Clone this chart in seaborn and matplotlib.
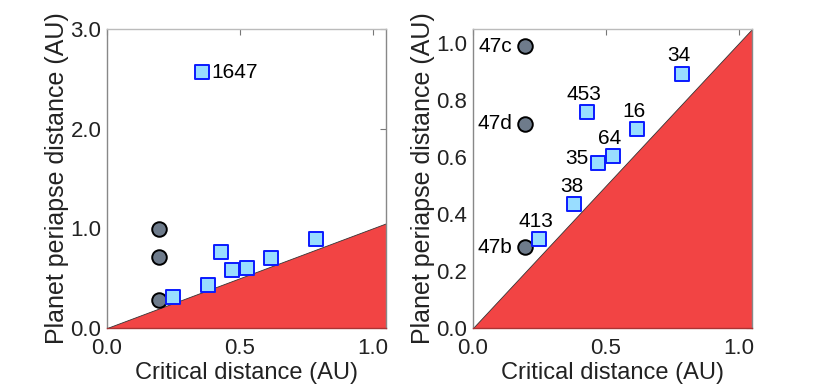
import matplotlib
matplotlib.use("Agg")
import matplotlib.pyplot as plt
import seaborn as sns
import pandas as pd

# known planets (grey circles)
circ_names = ["47c", "47d", "47b"]
circ_x = [0.195, 0.195, 0.195]
circ_y = [0.99, 0.717, 0.283]

# Kepler planets (blue squares)
sq_names = ["1647", "413", "38", "35", "64", "16", "453", "34"]
sq_x = [0.357, 0.249, 0.381, 0.472, 0.526, 0.616, 0.428, 0.786]
sq_y = [2.566, 0.312, 0.434, 0.579, 0.604, 0.698, 0.758, 0.893]

x_max = 1.05
left_ylim = 3.0
right_ylim = 1.05

circ_df = pd.DataFrame({"name": circ_names, "x": circ_x, "y": circ_y})
sq_df = pd.DataFrame({"name": sq_names, "x": sq_x, "y": sq_y})

sns.set_style("white")
plt.rcParams['font.family'] = ['Liberation Sans', 'DejaVu Sans']

fig = plt.figure(figsize=(8.3, 3.87), dpi=100)
ax1 = fig.add_axes([107 / 830, 1 - 328 / 387, 279 / 830, 299 / 387])
ax2 = fig.add_axes([473 / 830, 1 - 328 / 387, 279 / 830, 299 / 387])


def draw(ax, ymax, yticks):
    # region below the diagonal
    ax.fill_between([0, x_max], [0, 0], [0, x_max], color="#f24444",
                    edgecolor="#333333", linewidth=0.6, zorder=1)
    sns.scatterplot(data=circ_df, x="x", y="y", ax=ax, marker="o", s=110,
                    color="#6e7b8b", edgecolor="black", linewidth=1.4,
                    zorder=3, legend=False)
    sns.scatterplot(data=sq_df, x="x", y="y", ax=ax, marker="s", s=88,
                    color="#99ddff", edgecolor="#0a1aff", linewidth=1.4,
                    zorder=3, legend=False)
    ax.set_xlim(0, x_max)
    ax.set_ylim(0, ymax)
    ax.set_xticks([0, 0.5, 1.0])
    ax.set_xticklabels(["0.0", "0.5", "1.0"])
    ax.set_yticks(yticks)
    ax.set_yticklabels([f"{t:.1f}" for t in yticks])
    ax.tick_params(direction="in", length=4, width=0.8, colors="#777777",
                   labelcolor="#222222", labelsize=16, top=True, right=True)
    ax.tick_params(axis="x", pad=7)
    ax.tick_params(axis="y", pad=4)
    ax.set_xlabel("Critical distance (AU)", fontsize=17, color="#222222",
                  labelpad=2)
    ax.set_ylabel("Planet periapse distance (AU)", fontsize=18,
                  color="#222222", labelpad=1)
    for side in ["left", "right"]:
        ax.spines[side].set_color("#888888")
    ax.spines["top"].set_color("#bbbbbb")
    ax.spines["bottom"].set_color("#aa3333")
    for s in ax.spines.values():
        s.set_linewidth(1.0)


draw(ax1, left_ylim, [0.0, 1.0, 2.0, 3.0])
draw(ax2, right_ylim, [0.0, 0.2, 0.4, 0.6, 0.8, 1.0])


def label(ax, x, y, text, dx, dy, ha, va):
    ax.annotate(text, (x, y), xytext=(dx, dy), textcoords="offset points",
                fontsize=15, ha=ha, va=va, color="black")


# label on left panel
r = sq_df[sq_df["name"] == "1647"].iloc[0]
label(ax1, r["x"], r["y"], "1647", 7, 0, "left", "center")

# labels on right panel
for _, r in circ_df.iterrows():
    label(ax2, r["x"], r["y"], r["name"], -9, 0, "right", "center")
for _, r in sq_df.iterrows():
    if r["name"] == "1647":
        continue
    if r["name"] == "35":
        label(ax2, r["x"], r["y"], r["name"], -7, 3, "right", "center")
    else:
        label(ax2, r["x"], r["y"], r["name"], -2, 6, "center", "bottom")

fig.savefig("out.png", dpi=100)
